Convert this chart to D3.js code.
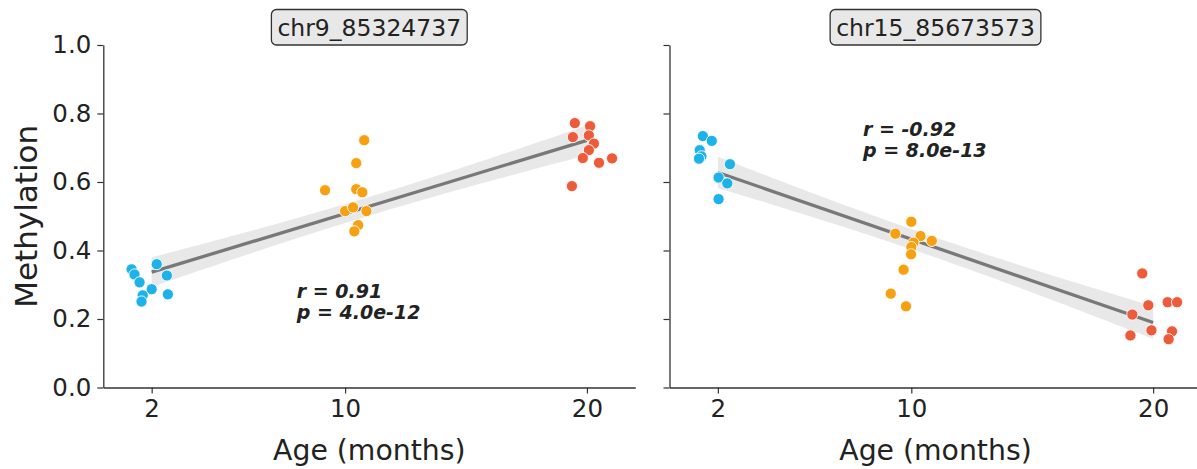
<!DOCTYPE html>
<html><head><meta charset="utf-8">
<script src="https://cdn.jsdelivr.net/npm/d3@7"></script>
<style>
html,body{margin:0;padding:0;background:#fff;}
svg{display:block;font-family:"DejaVu Sans",sans-serif;}
</style></head>
<body>
<script>
// ---------------- data ----------------
const ageGroups = [2, 10, 20];
const groupColors = ["#1DB3EA", "#F6A012", "#EE5B3B"];
const xTicks = [2, 10, 20];
const yTicks = [0.0, 0.2, 0.4, 0.6, 0.8, 1.0];
const panelTitles = ["chr9_85324737", "chr15_85673573"];
const rValues = ["r = 0.91", "r = -0.92"];
const pValues = ["p = 4.0e-12", "p = 8.0e-13"];

// panel 1 (chr9_85324737): jittered x positions and methylation, per age group
const p1Age2X = [1.17, 1.29, 2.21, 2.63, 1.50, 2.00, 1.63, 2.67, 1.58];
const p1Age2Y = [0.345, 0.330, 0.360, 0.327, 0.307, 0.287, 0.269, 0.272, 0.251];
const p1Age10X = [10.79, 10.46, 9.17, 10.46, 10.71, 10.00, 10.33, 10.88, 10.54, 10.38];
const p1Age10Y = [0.722, 0.655, 0.576, 0.579, 0.570, 0.515, 0.526, 0.515, 0.474, 0.456];
const p1Age20X = [19.50, 20.13, 19.42, 20.08, 20.29, 20.08, 19.83, 20.50, 21.04, 19.38];
const p1Age20Y = [0.772, 0.763, 0.731, 0.736, 0.712, 0.693, 0.670, 0.656, 0.669, 0.588];

// panel 2 (chr15_85673573)
const p2Age2X = [1.38, 1.75, 1.25, 1.32, 1.22, 2.50, 2.03, 2.39, 2.03];
const p2Age2Y = [0.734, 0.720, 0.693, 0.675, 0.668, 0.652, 0.613, 0.596, 0.550];
const p2Age10X = [10.00, 9.34, 10.38, 10.85, 10.09, 10.00, 9.99, 9.68, 9.15, 9.78];
const p2Age10Y = [0.484, 0.449, 0.442, 0.428, 0.423, 0.410, 0.389, 0.344, 0.274, 0.237];
const p2Age20X = [19.55, 19.80, 20.60, 20.99, 19.14, 19.93, 19.06, 20.78, 20.64];
const p2Age20Y = [0.333, 0.240, 0.249, 0.249, 0.213, 0.167, 0.152, 0.164, 0.141];

const annotPos = [{x: 8.0, y: 0.262}, {x: 8.0, y: 0.735}];

// ---------------- build ----------------
function buildPoints(xs, ys) {
  const out = [];
  xs.forEach((xg, g) => xg.forEach((xv, i) => out.push({age: ageGroups[g], x: xv, y: ys[g][i], g})));
  return out;
}
const panels = [
  buildPoints([p1Age2X, p1Age10X, p1Age20X], [p1Age2Y, p1Age10Y, p1Age20Y]),
  buildPoints([p2Age2X, p2Age10X, p2Age20X], [p2Age2Y, p2Age10Y, p2Age20Y])
];

const W = 1197, H = 469;
const svg = d3.select("body").append("svg").attr("width", W).attr("height", H);

const topY = 45, bottomY = 387.5, pw = 532;
const panelLeft = [103.3, 669.5];
const y = d3.scaleLinear().domain([0, 1]).range([bottomY, topY]);

function fit(pts) {
  const n = pts.length;
  const mx = d3.mean(pts, d => d.age), my = d3.mean(pts, d => d.y);
  const sxx = d3.sum(pts, d => (d.age - mx) ** 2);
  const sxy = d3.sum(pts, d => (d.age - mx) * (d.y - my));
  const b = sxy / sxx, a = my - b * mx;
  const sse = d3.sum(pts, d => (d.y - (a + b * d.age)) ** 2);
  const s = Math.sqrt(sse / (n - 2));
  return {a, b, s, n, mx, sxx};
}

panels.forEach((pts, pi) => {
  const x0 = panelLeft[pi];
  const x = d3.scaleLinear().domain([0, 22]).range([x0, x0 + pw]);
  const g = svg.append("g");

  // regression + CI
  const f = fit(pts);
  const xs = d3.range(0, 101).map(i => 2 + 18 * i / 100);
  const band = xs.map(xv => {
    const yh = f.a + f.b * xv;
    const se = f.s * Math.sqrt(1 / f.n + (xv - f.mx) ** 2 / f.sxx);
    return {x: xv, lo: yh - 2.05 * se, hi: yh + 2.05 * se, yh};
  });
  g.append("path").datum(band)
    .attr("d", d3.area().x(d => x(d.x)).y0(d => y(d.lo)).y1(d => y(d.hi)))
    .attr("fill", "#e6e6e6").attr("opacity", 0.9);
  g.append("path").datum([band[0], band[band.length - 1]])
    .attr("d", d3.line().x(d => x(d.x)).y(d => y(d.yh)))
    .attr("stroke", "#787878").attr("stroke-width", 3.3).attr("fill", "none");

  // points
  g.selectAll("circle.pt").data(pts).join("circle")
    .attr("cx", d => x(d.x)).attr("cy", d => y(d.y)).attr("r", 5.6)
    .attr("fill", d => groupColors[d.g]).attr("stroke", "#fff").attr("stroke-width", 0.9);

  // axes
  const xa = g.append("g").attr("transform", `translate(0,${bottomY})`)
    .call(d3.axisBottom(x).tickValues(xTicks).tickSize(6).tickPadding(6).tickSizeOuter(0));
  xa.select(".domain").attr("stroke", "#333").attr("stroke-width", 1.3);
  xa.selectAll(".tick line").attr("stroke", "#333").attr("stroke-width", 1.2);
  xa.selectAll(".tick text").attr("font-size", 24.5).attr("fill", "#222").attr("font-family", "DejaVu Sans");

  const ya = g.append("g").attr("transform", `translate(${x0},0)`)
    .call(d3.axisLeft(y).tickValues(yTicks).tickSize(6).tickPadding(6).tickSizeOuter(0)
      .tickFormat(pi === 0 ? d3.format(".1f") : () => ""));
  ya.select(".domain").attr("stroke", "#333").attr("stroke-width", 1.3);
  ya.selectAll(".tick line").attr("stroke", "#333").attr("stroke-width", 1.2);
  ya.selectAll(".tick text").attr("font-size", 24.5).attr("fill", "#222").attr("font-family", "DejaVu Sans");

  // x label
  g.append("text").attr("x", x0 + pw / 2).attr("y", 460).attr("text-anchor", "middle")
    .attr("font-size", 28.3).attr("fill", "#222").text("Age (months)");

  // annotation
  const ag = g.append("text").attr("font-size", 19).attr("font-weight", "bold")
    .attr("font-style", "italic").attr("fill", "#222");
  ag.append("tspan").attr("x", x(annotPos[pi].x)).attr("y", y(annotPos[pi].y)).text(rValues[pi]);
  ag.append("tspan").attr("x", x(annotPos[pi].x)).attr("dy", 21.5).text(pValues[pi]);

  // title box
  const tt = g.append("text").attr("x", x0 + pw / 2).attr("y", 36).attr("text-anchor", "middle")
    .attr("font-size", 23.5).attr("fill", "#222").text(panelTitles[pi]);
  const bb = tt.node().getBBox();
  g.append("rect")
    .attr("x", bb.x - 6).attr("y", 9.5).attr("width", bb.width + 12).attr("height", 35.5)
    .attr("rx", 5).attr("fill", "#e8e8e8").attr("stroke", "#333").attr("stroke-width", 1.3);
  tt.raise();
});

// y label
svg.append("text").attr("transform", `translate(37,${(topY + bottomY) / 2}) rotate(-90)`)
  .attr("text-anchor", "middle").attr("font-size", 31).attr("fill", "#222").text("Methylation");
</script>
</body></html>
